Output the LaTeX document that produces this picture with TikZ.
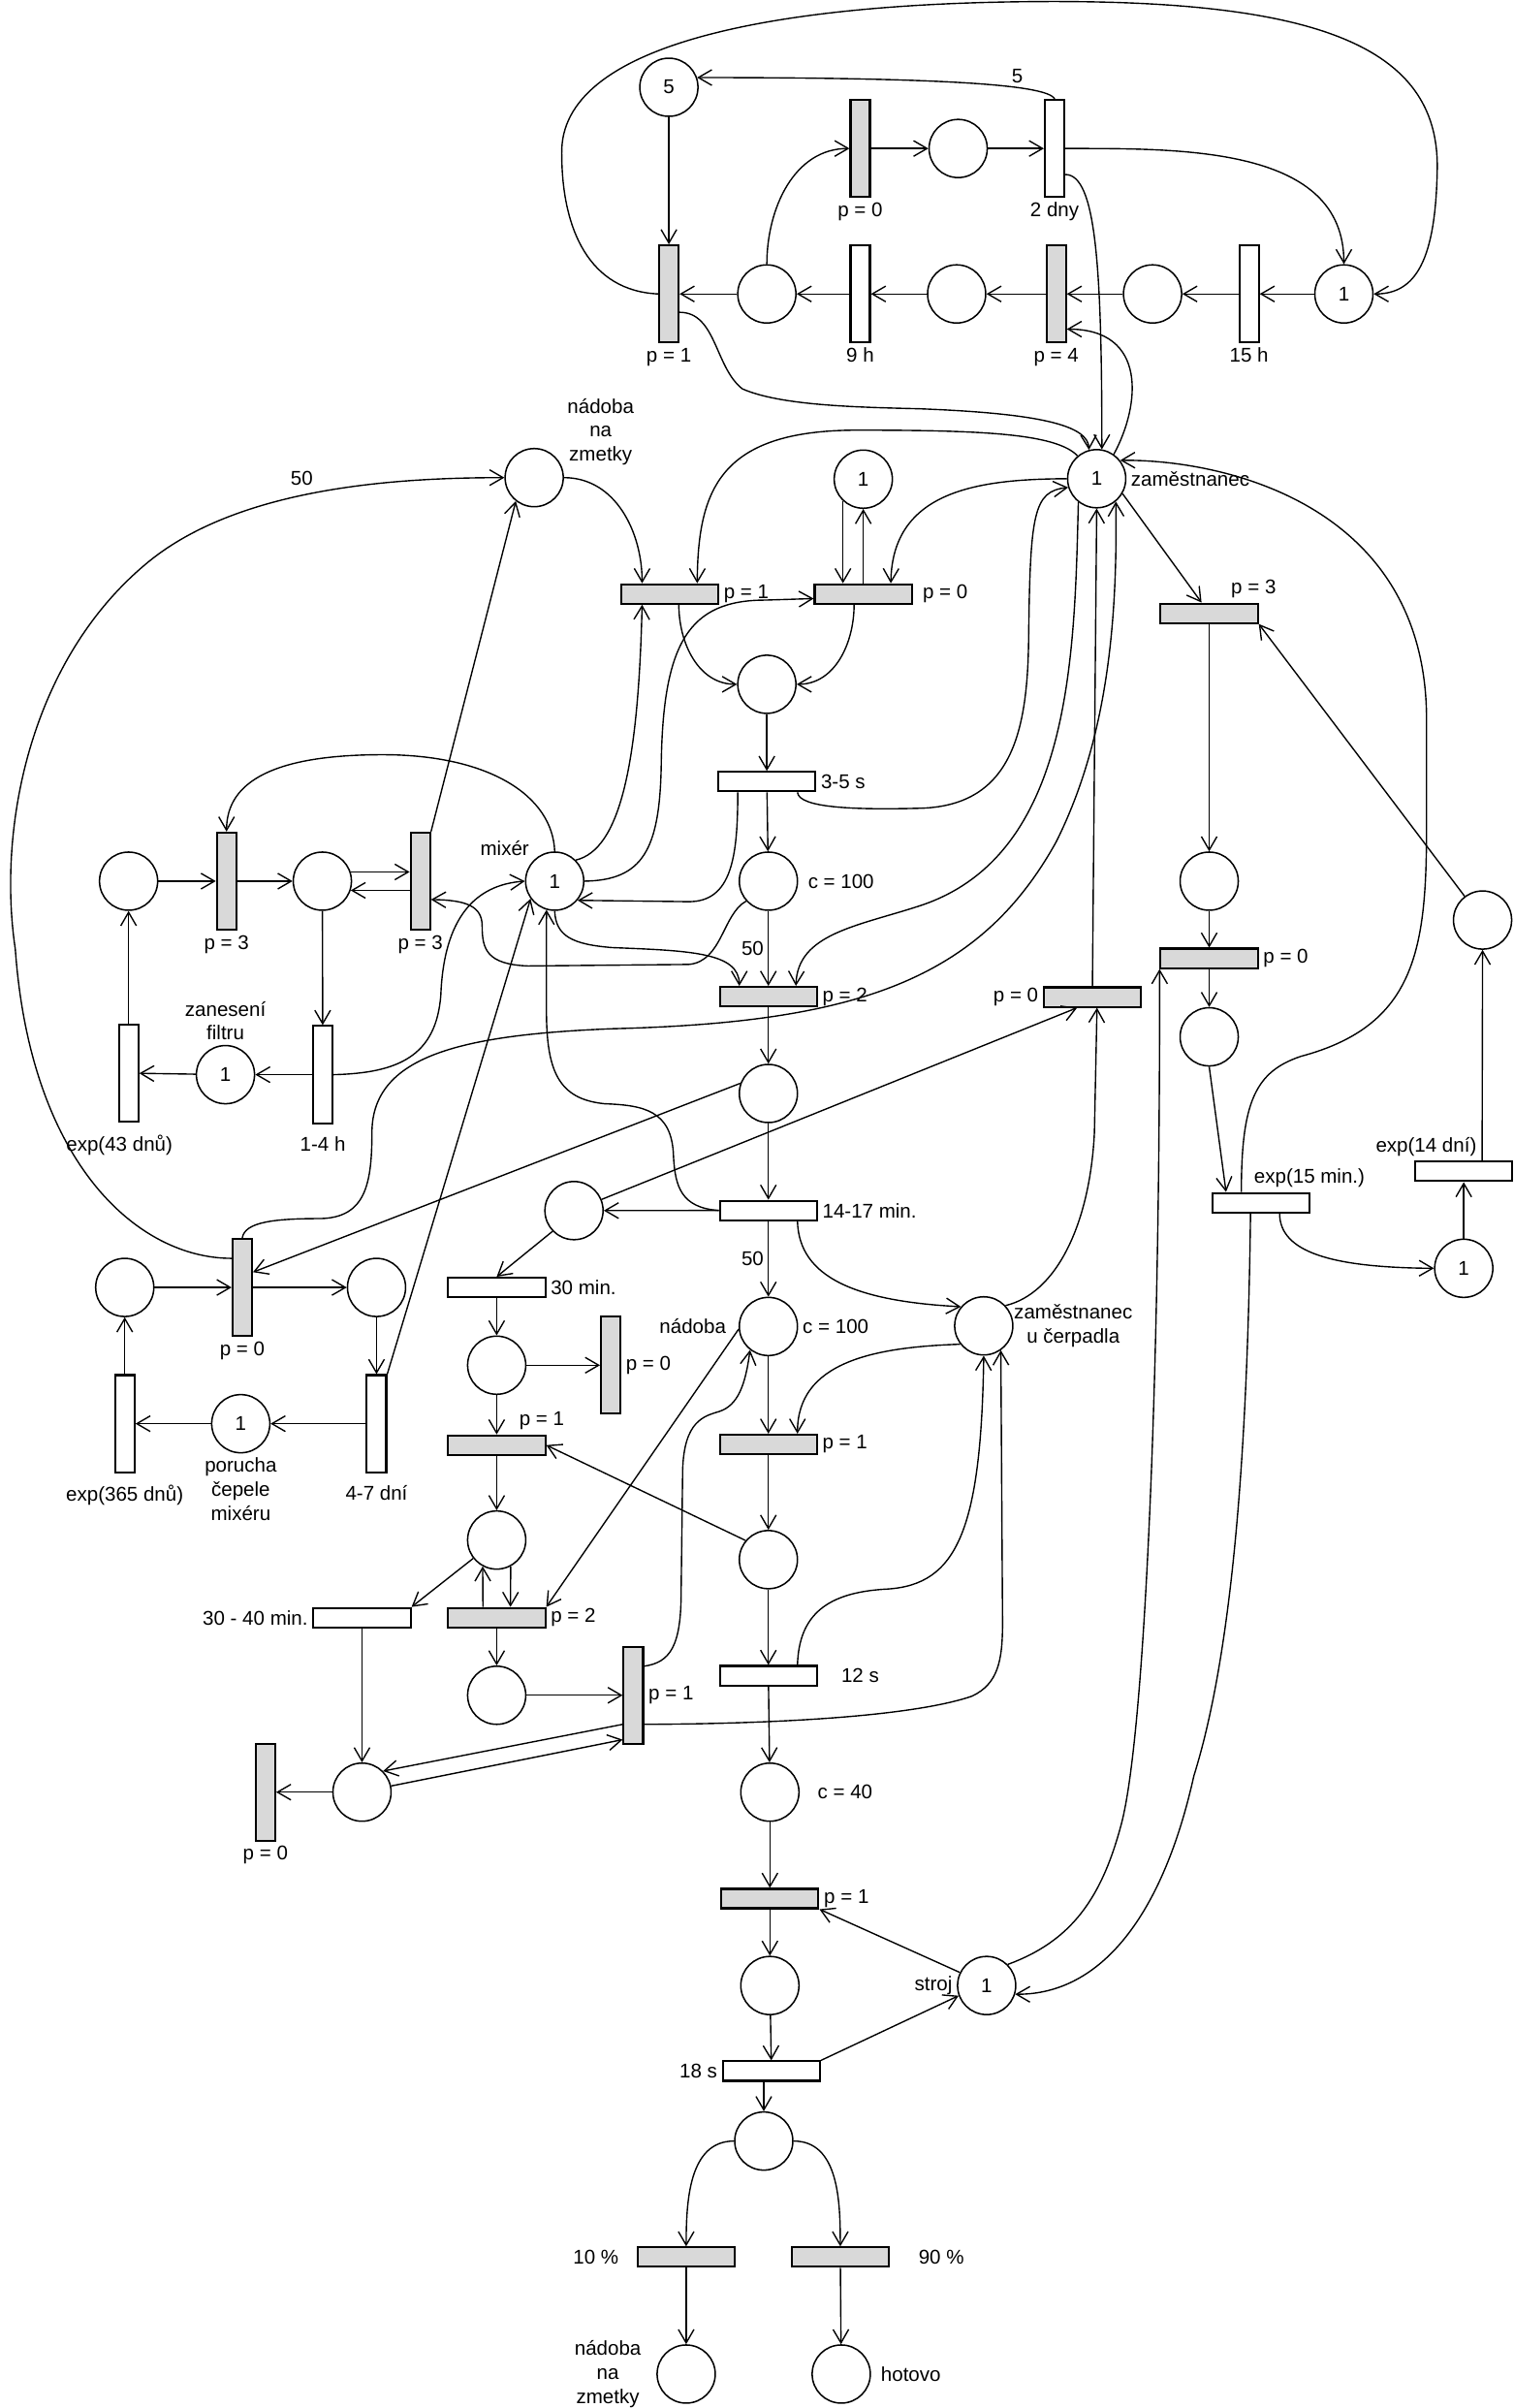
\documentclass[tikz,border=0pt]{standalone}
\usepackage{fontspec}
\setmainfont{Liberation Sans}
\usetikzlibrary{arrows.meta,calc}
\newcommand\pnfont{\fontsize{7.4}{8.9}\selectfont}

\begin{document}
\begin{tikzpicture}[
    x=0.02cm, y=-0.02cm,
    >={Straight Barb[length=5pt,width=5.8pt]},
    every label/.style={font=\pnfont, inner sep=1.5pt},
    popis/.style={font=\pnfont, inner sep=1.5pt},
    misto/.style={circle, draw, line width=0.55pt, minimum size=0.76cm, inner sep=0pt, font=\pnfont},
    prechod/.style={draw, line width=0.75pt, inner sep=0pt},
    pv/.style={prechod, minimum width=0.254cm, minimum height=1.27cm},
    ph/.style={prechod, minimum width=1.27cm, minimum height=0.254cm},
    okam/.style={fill=black!15},
    hrana/.style={->, line width=0.5pt}
    ]
    \useasboundingbox (0,0) rectangle (989,1573);

    \node[misto] (p5) at (437,57) {5};
    \node[pv,okam,label={below:p = 0}] (tq0) at (562,97) {};
    \node[misto] (pt1) at (626,97) {};
    \node[pv,label={below:2 dny}] (t2d) at (689,97) {};
    \node[pv,okam,label={below:p = 1}] (tq1) at (437,192) {};
    \node[misto] (pt2) at (501,192) {};
    \node[pv,label={below:9 h}] (t9h) at (562,192) {};
    \node[misto] (pt3) at (625,192) {};
    \node[pv,okam,label={below:p = 4}] (tq4) at (690,192) {};
    \node[misto] (pt4) at (753,192) {};
    \node[pv,label={below:15 h}] (t15h) at (816,192) {};
    \node[misto] (pt5) at (878,192) {1};

    \node[misto,label={[align=center,xshift=0.1cm,yshift=-0.17cm]above right:nádoba\\na\\zmetky}] (nzm) at (349,312) {};
    \node[ph,okam,label={right:p = 1}] (ta) at (437.5,388) {};
    \node[ph,okam,label={[xshift=2pt]right:p = 0}] (tb) at (564,388) {};
    \node[misto] (pone) at (564,313) {1};
    \node[misto] (pmid) at (501,447) {};
    \node[ph,label={right:3-5 s}] (t35) at (501,510.6) {};
    \node[misto,label={[xshift=2pt]right:c = 100}] (pc1) at (502,575.6) {};
    \node[ph,okam,label={right:p = 2}] (tp2) at (502,651) {};
    \node[misto] (pbl) at (502,714.3) {};
    \node[ph,label={right:14-17 min.}] (t14) at (502,790.7) {};
    \node[misto,label={right:c = 100},label={[xshift=-3pt]left:nádoba}] (nad) at (502,866.5) {};
    \node[ph,okam,label={right:p = 1}] (tc1) at (502,943.5) {};
    \node[misto] (pe) at (502,1018.8) {};
    \node[ph,label={[xshift=7pt]right:12 s}] (t12) at (502,1094.6) {};
    \node[misto,label={[xshift=5pt]right:c = 40}] (pc4) at (503,1170.7) {};
    \node[ph,okam,label={right:p = 1}] (td1) at (503,1240.2) {};
    \node[misto] (pf) at (503,1297) {};
    \node[ph,label={left:18 s}] (t18) at (504,1352.9) {};
    \node[misto] (pg) at (499,1398.6) {};
    \node[ph,okam,label={[xshift=-5pt]left:10 \%}] (t10) at (448.3,1474.4) {};
    \node[ph,okam,label={[xshift=9pt]right:90 \%}] (t90) at (549,1474.4) {};
    \node[misto,label={[align=center,xshift=-4pt]left:nádoba\\na\\zmetky}] (zm2) at (448.3,1550.8) {};
    \node[misto,label={[xshift=2pt]right:hotovo}] (hot) at (549.6,1550.8) {};
    \node[misto,label={left:stroj}] (stroj) at (644.6,1297) {1};

    \node[misto,label={right:zaměstnanec}] (zam) at (716.5,312.7) {1};
    \node[ph,okam,label={[xshift=0.58cm]above:p = 3}] (tp3) at (790,400.6) {};
    \node[misto] (pr1) at (790,575.6) {};
    \node[ph,okam,label={right:p = 0}] (tr0) at (790,626) {};
    \node[misto] (pr2) at (790,677.3) {};
    \node[ph,label={[xshift=0.63cm]above:exp(15 min.)}] (te15) at (824,785.6) {};
    \node[misto] (pe15) at (956.3,828.5) {1};
    \node[ph,label={[xshift=-0.49cm]above:exp(14 dní)}] (te14) at (956.3,765.2) {};
    \node[misto] (pr3) at (968.6,601) {};
    \node[ph,okam,label={left:p = 0}] (tm0) at (713.7,651.3) {};
    \node[misto,label={[align=center,inner sep=0pt]right:zaměstnanec\\u čerpadla}] (zcer) at (642.7,866.1) {};

    \node[misto] (pl1) at (84,575.6) {};
    \node[pv,okam,label={below:p = 3}] (tl3a) at (148,575.6) {};
    \node[misto] (pl2) at (210.6,575.6) {};
    \node[pv,okam,label={below:p = 3}] (tl3b) at (274.6,575.6) {};
    \node[misto,label={above left:mixér}] (mix) at (362.4,575.6) {1};
    \node[pv,label={[xshift=-0.12cm,yshift=-0.1cm]below:exp(43 dnů)}] (te43) at (84,701) {};
    \node[misto,label={[align=center]above:zanesení\\filtru}] (zan) at (147.3,702) {1};
    \node[pv,label={[yshift=-0.1cm]below:1-4 h}] (t14h) at (210.9,702) {};
    \node[misto] (pl3) at (81.5,841) {};
    \node[pv,okam,label={below:p = 0}] (tl0) at (158.3,841) {};
    \node[misto] (pl4) at (246,841) {};
    \node[pv,label={[yshift=-0.1cm]below:exp(365 dnů)}] (te365) at (81.5,930) {};
    \node[misto,label={[align=center]below:porucha\\čepele\\mixéru}] (por) at (157.3,930) {1};
    \node[pv,label={[yshift=-0.1cm]below:4-7 dní}] (t47) at (246,930) {};

    \node[misto] (pm1) at (375,790.8) {};
    \node[ph,label={right:30 min.}] (t30) at (324.5,841) {};
    \node[misto] (pm2) at (324.5,891.8) {};
    \node[pv,okam,label={right:p = 0}] (tm0b) at (399,891.8) {};
    \node[ph,okam,label={[xshift=0.59cm]above:p = 1}] (tm1) at (324.5,944) {};
    \node[misto] (pm3) at (324.5,1006) {};
    \node[ph,label={left:30 - 40 min.}] (t3040) at (236.5,1056.7) {};
    \node[ph,okam,label={right:p = 2}] (tm2) at (324.5,1056.7) {};
    \node[misto] (pm4) at (324.5,1107.4) {};
    \node[pv,okam,label={right:p = 1}] (tv1) at (413.8,1107.4) {};
    \node[misto] (pm5) at (236.5,1170.7) {};
    \node[pv,okam,label={below:p = 0}] (tb0) at (173.4,1170.7) {};

    \draw[hrana] (p5) -- (tq1);
    \draw[hrana] (t2d.north) .. controls +(-5,-10) and +(150,0) .. (p5.19) node[popis,pos=0.3,above] (w5) {5};
    \draw[hrana] (tq0) -- (pt1);
    \draw[hrana] (pt1) -- (t2d);
    \draw[hrana] (pt2.north) to[out=90,in=180] (tq0.west);
    \draw[hrana] (t2d.east) to[out=0,in=90] (pt5.north);
    \draw[hrana] ($(t2d.east)+(0,17)$) .. controls +(20,0) and +(0,-120) .. (zam.80);
    \draw[hrana] (pt5) -- (t15h);
    \draw[hrana] (t15h) -- (pt4);
    \draw[hrana] (pt4) -- (tq4);
    \draw[hrana] (tq4) -- (pt3);
    \draw[hrana] (pt3) -- (t9h);
    \draw[hrana] (t9h) -- (pt2);
    \draw[hrana] (pt2) -- (tq1);
    \draw[hrana] (tq1.west) .. controls (385,190) and (367,150) .. (367,100)
        .. controls (366,30) and (500,2) .. (680,1)
        .. controls (860,0) and (940,30) .. (939,110)
        .. controls (938,170) and (925,192) .. (pt5.east);
    \draw[hrana] ($(tq1.east)+(0,12)$) .. controls (468,204) and (467,240) .. (485,254)
        .. controls (510,265) and (560,266) .. (600,267)
        .. controls (680,270) and (711,278) .. (zam.105);
    \draw[hrana] (zam.55) .. controls (745,265) and (750,215) .. ($(tq4.east)+(0,23)$);

    \draw[hrana] (nzm.east) to[out=0,in=90] ($(ta.north)+(-18,0)$);
    \draw[hrana] (zam.130) .. controls (690,283) and (640,281) .. (560,281)
        .. controls (470,281) and (456,320) .. ($(ta.north)+(18,0)$);
    \draw[hrana] (pone.227) -- (pone.227 |- tb.north);
    \draw[hrana] (tb.north) -- (pone.south);
    \draw[hrana] (zam.west) .. controls (640,313) and (583,320) .. ($(tb.north)+(18,0)$);
    \draw[hrana] ($(ta.south)+(6,0)$) to[out=-90,in=180] (pmid.west);
    \draw[hrana] ($(tb.south)+(-6,0)$) to[out=-90,in=0] (pmid.east);
    \draw[hrana] (pmid) -- (t35);
    \draw[hrana] (t35) -- (pc1);
    \draw[hrana] ($(t35.south)+(20,0)$) .. controls (522,528) and (560,529) .. (600,528)
        .. controls (660,527) and (671,480) .. (672,420)
        .. controls (673,335) and (675,321) .. (zam.197);
    \draw[hrana] ($(t35.south)+(-19,0)$) .. controls (482,560) and (478,589) .. (450,589) -- (mix.-40);
    \draw[hrana] (mix.45) .. controls (405,555) and (417,500) .. ($(ta.south)+(-18,0)$);
    \draw[hrana] (mix.east) .. controls (420,575) and (431,555) .. (432,500)
        .. controls (433,420) and (450,392) .. (500,392) -- ($(tb.west)+(0,3)$);
    \draw[hrana] (zam.232) .. controls (702,430) and (700,560) .. (600,592)
        .. controls (560,605) and (521,610) .. ($(tp2.north)+(18,0)$);
    \draw[hrana] (tl0.north) .. controls (160,798) and (180,796) .. (210,796)
        .. controls (238,795) and (243,775) .. (243,740)
        .. controls (243,690) and (300,676) .. (400,672)
        .. controls (560,668) and (640,640) .. (690,550)
        .. controls (725,480) and (730,400) .. (zam.-50);
    \draw[hrana] (pc1) -- node[popis,left] (w50a) {50} (tp2);
    \draw[hrana] (pc1.222) .. controls (472,597) and (472,628) .. (450,630) -- (345,631)
        .. controls (318,630) and (315,620) .. (315,605)
        .. controls (315,592) and (305,588) .. ($(tl3b.east)+(0,12)$);
    \draw[hrana] (mix.south) .. controls (363,612) and (375,617) .. (400,619)
        .. controls (450,621) and (483,622) .. ($(tp2.north)+(-19,0)$);
    \draw[hrana] (tp2) -- (pbl);
    \draw[hrana] (pbl) -- (t14);
    \draw[hrana] (t14.west) -- (pm1.east);
    \draw[hrana] (t14.west) .. controls (445,789) and (441,775) .. (440,755)
        .. controls (439,725) and (420,722) .. (395,721)
        .. controls (365,718) and (357,700) .. (357,660) -- (mix.254);
    \draw[hrana] (t14) -- node[popis,left] (w50b) {50} (nad);
    \draw[hrana] ($(t14.south)+(19,0)$) .. controls (522,835) and (560,850) .. (zcer.140);
    \draw[hrana] (nad) -- (tc1);
    \draw[hrana] (zcer.218) .. controls (570,880) and (521,890) .. ($(tc1.north)+(19,0)$);
    \draw[hrana] (tc1) -- (pe);
    \draw[hrana] (pe) -- (t12);
    \draw[hrana] (pe.140) -- (tm1.east);
    \draw[hrana] (t12) -- (pc4);
    \draw[hrana] ($(t12.north)+(19,0)$) .. controls (522,1055) and (540,1040) .. (580,1038)
        .. controls (625,1035) and (641,1000) .. (zcer.south);
    \draw[hrana] ($(tv1.east)+(0,19)$) .. controls (520,1126) and (600,1120) .. (635,1108)
        .. controls (652,1100) and (655,1085) .. (655,1060) -- (zcer.-55);
    \draw[hrana] ($(tv1.east)+(0,-19)$) .. controls (438,1086) and (445,1075) .. (445,1040)
        -- (446,960) .. controls (447,928) and (460,925) .. (470,922)
        .. controls (482,918) and (487,905) .. (nad.232);
    \draw[hrana] (nad.185) -- (tm2.north east);
    \draw[hrana] (pc4) -- (td1);
    \draw[hrana] (td1) -- (pf);
    \draw[hrana] (stroj.154) -- (td1.south east);
    \draw[hrana] (pf) -- (t18);
    \draw[hrana] (t18.north east) -- (stroj.200);
    \draw[hrana] (t18.south -| pg) -- (pg);
    \draw[hrana] (pg.west) to[out=180,in=90] (t10.north);
    \draw[hrana] (pg.east) to[out=0,in=90] (t90.north);
    \draw[hrana] (t10) -- (zm2);
    \draw[hrana] (t90) -- (hot);

    \draw[hrana] (stroj.45) .. controls (700,1268) and (720,1240) .. (733,1190)
        .. controls (748,1130) and (758,900) .. (tr0.south west);
    \draw[hrana] ($(te15.south)+(-7,0)$) .. controls (815,950) and (805,1080) .. (780,1160)
        .. controls (760,1250) and (720,1303) .. (stroj.-17);
    \draw[hrana] (zam.-30) -- ($(tp3.north)+(-5,0)$);
    \draw[hrana] (pr3.127) -- (tp3.south east);
    \draw[hrana] (tp3) -- (pr1);
    \draw[hrana] (pr1) -- (tr0);
    \draw[hrana] (tr0) -- (pr2);
    \draw[hrana] (pr2.south) -- ($(te15.north)+(-23,0)$);
    \draw[hrana] ($(te15.north)+(-13,0)$) .. controls (811,720) and (820,700) .. (850,690)
        .. controls (925,670) and (932,620) .. (932,540) -- (932,470)
        .. controls (932,330) and (800,300) .. (zam.38);
    \draw[hrana] ($(te15.south)+(12,0)$) .. controls (836,818) and (870,828) .. (pe15.west);
    \draw[hrana] (pe15) -- (te14);
    \draw[hrana] ($(te14.north)+(12,0)$) -- (pr3.south);
    \draw[hrana] (pm1.22) -- ($(tm0.south)+(-10,0)$);
    \draw[hrana] (tm0.north) -- (zam.south);
    \draw[hrana] (zcer.43) .. controls (690,845) and (712,800) .. (715,740) -- ($(tm0.south)+(3,0)$);

    \draw[hrana] (pl1) -- (tl3a);
    \draw[hrana] (tl3a) -- (pl2);
    \draw[hrana] (pl2.18) -- (pl2.18 -| tl3b.west);
    \draw[hrana] (tl3b.west |- pl2.-18) -- (pl2.-18);
    \draw[hrana] (mix.north) .. controls (361,520) and (320,493) .. (250,493)
        .. controls (180,493) and (148,510) .. (tl3a.north);
    \draw[hrana] (tl3b.north east) -- (nzm.232);
    \draw[hrana] (pl2) -- (t14h);
    \draw[hrana] (t14h) -- (zan);
    \draw[hrana] (zan) -- (te43);
    \draw[hrana] (te43) -- (pl1);
    \draw[hrana] (t14h.east) .. controls (260,701) and (285,690) .. (288,650)
        .. controls (290,600) and (310,578) .. (mix.west);
    \draw[hrana] ($(tl0.west)+(0,-19)$) .. controls (90,822) and (20,760) .. (10,620)
        .. controls (-2,540) and (20,430) .. (97,367)
        .. controls (157,318) and (260,312) .. (nzm.west) node[popis,pos=0.45,above=2pt] (w50c) {50};
    \draw[hrana] (pl3) -- (tl0);
    \draw[hrana] (tl0) -- (pl4);
    \draw[hrana] (pbl.160) -- ($(tl0.east)+(0,-10)$);
    \draw[hrana] (pl4) -- (t47);
    \draw[hrana] (t47) -- (por);
    \draw[hrana] (por) -- (te365);
    \draw[hrana] (te365) -- (pl3);
    \draw[hrana] (t47.north east) -- (mix.216);

    \draw[hrana] (pm1.224) -- (t30.north);
    \draw[hrana] (t30) -- (pm2);
    \draw[hrana] (pm2) -- (tm0b);
    \draw[hrana] (pm2) -- (tm1);
    \draw[hrana] (tm1) -- (pm3);
    \draw[hrana] (pm3.218) -- (t3040.north east);
    \draw[hrana] ($(tm2.north)+(-9,0)$) -- (pm3.242);
    \draw[hrana] (pm3.-62) -- ($(tm2.north)+(9,0)$);
    \draw[hrana] (tm2) -- (pm4);
    \draw[hrana] (pm4) -- (tv1);
    \draw[hrana] (t3040) -- (pm5);
    \draw[hrana] ($(tv1.west)+(0,19)$) -- (pm5.45);
    \draw[hrana] (pm5.12) -- ($(tv1.west)+(0,29)$);
    \draw[hrana] (pm5) -- (tb0);
\end{tikzpicture}
\end{document}
